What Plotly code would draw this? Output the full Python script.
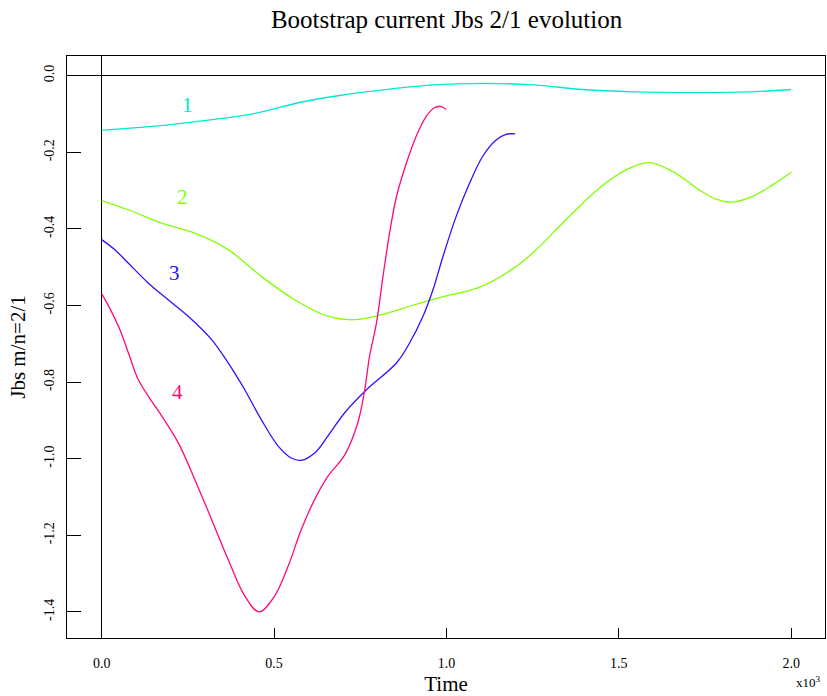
import plotly.graph_objects as go

# Time in units of 1e3
t1 = [0.0, 0.140, 0.236, 0.430, 0.488, 0.584, 0.681, 0.816, 0.961, 1.105, 1.250, 1.395, 1.540, 1.733, 1.878, 2.0]
j1 = [-0.142, -0.133, -0.124, -0.101, -0.089, -0.068, -0.053, -0.037, -0.024, -0.020, -0.024, -0.036, -0.042, -0.044, -0.042, -0.036]

t2 = [0.0, 0.077, 0.174, 0.270, 0.367, 0.463, 0.560, 0.656, 0.734, 0.811, 0.908, 0.994, 1.091, 1.188, 1.250, 1.347, 1.443, 1.521, 1.588, 1.656, 1.733, 1.782, 1.830, 1.888, 1.946, 2.0]
j2 = [-0.326, -0.350, -0.385, -0.411, -0.454, -0.524, -0.585, -0.628, -0.637, -0.624, -0.598, -0.576, -0.554, -0.507, -0.463, -0.376, -0.294, -0.246, -0.227, -0.250, -0.298, -0.322, -0.330, -0.315, -0.285, -0.252]

t3 = [0.0, 0.039, 0.077, 0.135, 0.193, 0.251, 0.319, 0.367, 0.415, 0.463, 0.512, 0.550, 0.579, 0.618, 0.656, 0.705, 0.768, 0.855, 0.893, 0.932, 0.961, 0.990, 1.028, 1.067, 1.105, 1.144, 1.173, 1.199]
j3 = [-0.428, -0.455, -0.489, -0.541, -0.585, -0.628, -0.689, -0.750, -0.820, -0.898, -0.967, -0.998, -1.004, -0.985, -0.941, -0.880, -0.820, -0.750, -0.698, -0.628, -0.559, -0.472, -0.368, -0.281, -0.211, -0.168, -0.153, -0.152]

t4 = [0.0, 0.025, 0.053, 0.080, 0.106, 0.140, 0.174, 0.222, 0.270, 0.319, 0.367, 0.415, 0.457, 0.502, 0.541, 0.579, 0.618, 0.656, 0.705, 0.743, 0.763, 0.777, 0.797, 0.816, 0.835, 0.855, 0.884, 0.912, 0.941, 0.966, 0.985, 0.999]
j4 = [-0.569, -0.610, -0.663, -0.730, -0.793, -0.843, -0.888, -0.958, -1.054, -1.159, -1.263, -1.358, -1.400, -1.358, -1.280, -1.185, -1.106, -1.046, -0.990, -0.906, -0.820, -0.733, -0.646, -0.524, -0.411, -0.316, -0.228, -0.159, -0.107, -0.083, -0.081, -0.088]

series = [(t1, j1, "1", "#00e8d0"), (t2, j2, "2", "#80ff00"),
          (t3, j3, "3", "#3010ff"), (t4, j4, "4", "#ff0a7a")]
label_pos = {"1": (0.250, -0.076), "2": (0.235, -0.316), "3": (0.212, -0.515), "4": (0.221, -0.825)}

SERIF = "Liberation Serif, Times New Roman, serif"

fig = go.Figure()
for t, j, name, col in series:
    fig.add_trace(go.Scatter(x=t, y=j, mode="lines", line=dict(color=col, width=1.3, shape="spline", smoothing=1.0),
                             showlegend=False, hoverinfo="skip"))
    lx, ly = label_pos[name]
    fig.add_annotation(x=lx, y=ly, text=name, showarrow=False, font=dict(family=SERIF, size=21, color=col))

fig.add_annotation(xref="paper", yref="paper", x=0.998, y=-0.093, xanchor="right", yanchor="bottom",
                   text="x10<sup>3</sup>", showarrow=False, font=dict(family=SERIF, size=13, color="black"))

fig.update_layout(
    width=827, height=696,
    margin=dict(l=67, r=2, t=56, b=58),
    paper_bgcolor="white", plot_bgcolor="white",
    title=dict(text="Bootstrap current Jbs 2/1 evolution", x=0.54, xanchor="center", y=0.972, yanchor="middle",
               font=dict(family=SERIF, size=25, color="black")),
    font=dict(family=SERIF, color="black"),
)
fig.update_xaxes(range=[-0.1005, 2.098], tickvals=[0.0, 0.5, 1.0, 1.5, 2.0], ticktext=["0.0", "0.5", "1.0", "1.5", "2.0"],
                 ticks="inside", ticklen=10, tickcolor="black", showgrid=False,
                 showline=True, linecolor="black", linewidth=1, mirror=True,
                 zeroline=True, zerolinecolor="black", zerolinewidth=1,
                 tickfont=dict(family=SERIF, size=14), ticklabelstandoff=12,
                 title=dict(text="Time", font=dict(family=SERIF, size=21), standoff=6))
fig.update_yaxes(range=[-1.468, 0.0514], tickvals=[0.0, -0.2, -0.4, -0.6, -0.8, -1.0, -1.2, -1.4],
                 ticktext=["0.0", "-0.2", "-0.4", "-0.6", "-0.8", "-1.0", "-1.2", "-1.4"],
                 ticks="inside", ticklen=14, tickcolor="black", showgrid=False, tickangle=-90,
                 showline=True, linecolor="black", linewidth=1, mirror=True,
                 zeroline=True, zerolinecolor="black", zerolinewidth=1,
                 tickfont=dict(family=SERIF, size=14), ticklabelstandoff=6,
                 title=dict(text="Jbs m/n=2/1", font=dict(family=SERIF, size=21), standoff=11))

fig.write_html("out.html")
